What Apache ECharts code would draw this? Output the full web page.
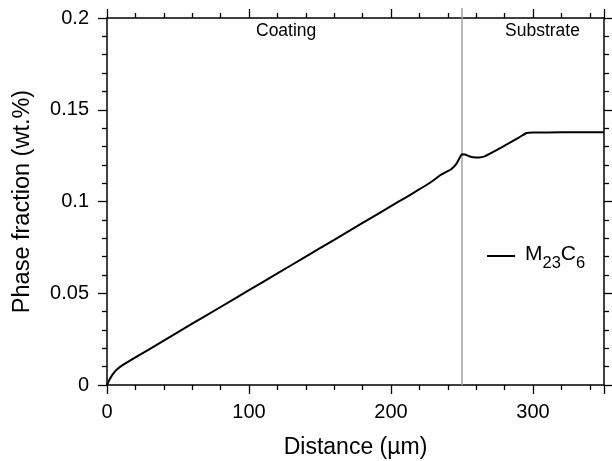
<!DOCTYPE html>
<html><head><meta charset="utf-8">
<script src="https://cdn.jsdelivr.net/npm/echarts@6/dist/echarts.min.js"></script>
<style>html,body{margin:0;padding:0;background:#fff}#c{width:612px;height:461px}</style>
</head><body><div id="c"></div>
<script>
const distance = [0, 2, 4, 6, 8, 10, 20, 40, 60, 80, 100, 120, 140, 160, 180, 200, 210, 220, 225, 230, 235, 240, 243, 246, 248, 250, 252, 255, 258, 262, 266, 270, 280, 290, 295, 297, 300, 320, 340, 350];
const m23c6 = [0, 0.0033, 0.0058, 0.0077, 0.0091, 0.0103, 0.015, 0.0242, 0.0334, 0.0425, 0.0517, 0.0608, 0.07, 0.0791, 0.0883, 0.0975, 0.102, 0.1067, 0.109, 0.1116, 0.1145, 0.1165, 0.118, 0.1205, 0.1233, 0.1258, 0.1256, 0.1247, 0.1241, 0.124, 0.1246, 0.1262, 0.1304, 0.1348, 0.1372, 0.1375, 0.1376, 0.1377, 0.1378, 0.1378];
const interfaceX = [250, 250];
const interfaceY = [0, 0.2055];
const regionLabels = ['Coating', 'Substrate'];
const xTitle = 'Distance (\u00b5m)';
const yTitle = 'Phase fraction (wt.%)';

const FONT = '"Liberation Sans", Arial, Helvetica, sans-serif';
const chart = echarts.init(document.getElementById('c'), null, {renderer: 'canvas'});
const axisCommon = {
  axisLine: {show: true, onZero: false, lineStyle: {color: '#000', width: 1.5}},
  splitLine: {show: false},
  axisTick: {show: true, inside: false, length: 9, lineStyle: {color: '#000', width: 1.3}},
  minorTick: {show: true, splitNumber: 5, length: 5, lineStyle: {color: '#000', width: 1.3}},
};
const yFmt = v => String(Math.round(v * 1000) / 1000);
chart.setOption({
  animation: false,
  backgroundColor: '#fff',
  textStyle: {fontFamily: FONT},
  grid: {left: 107, right: 8, top: 18, bottom: 76, containLabel: false, outerBoundsMode: 'none'},
  xAxis: [
    Object.assign({type: 'value', position: 'bottom', min: 0, max: 350, interval: 100,
      name: xTitle, nameLocation: 'middle', nameGap: 51,
      nameTextStyle: {fontSize: 23, color: '#000', fontFamily: FONT},
      axisLabel: {fontSize: 20, color: '#000', margin: 17, fontFamily: FONT, showMaxLabel: false}}, axisCommon),
    Object.assign({type: 'value', position: 'top', min: 0, max: 350, interval: 100,
      axisLabel: {show: false}}, axisCommon)
  ],
  yAxis: [
    Object.assign({type: 'value', position: 'left', min: 0, max: 0.2, interval: 0.05,
      name: yTitle, nameLocation: 'middle', nameGap: 72, nameRotate: 90,
      nameTextStyle: {fontSize: 23.5, color: '#000', fontFamily: FONT},
      axisLabel: {fontSize: 20, color: '#000', margin: 18, fontFamily: FONT, formatter: yFmt}}, axisCommon),
    Object.assign({type: 'value', position: 'right', min: 0, max: 0.2, interval: 0.05,
      axisLabel: {show: false}}, axisCommon)
  ],
  legend: {
    data: ['M23C6'],
    left: 482, top: 239,
    itemWidth: 28, itemHeight: 2, itemGap: 10,
    icon: 'rect',
    formatter: () => '{m|M}{s|23}{m|C}{s|6}',
    textStyle: {
      color: '#000', fontFamily: FONT, padding: [0, 0, 0, 5],
      rich: {
        m: {fontSize: 21, color: '#000', fontFamily: FONT, lineHeight: 24, verticalAlign: 'top'},
        s: {fontSize: 16.5, color: '#000', fontFamily: FONT, lineHeight: 17, verticalAlign: 'top', padding: [11, 0, 0, 0]}
      }
    }
  },
  graphic: [
    {type: 'text', left: 256, top: 22, style: {text: regionLabels[0], fontSize: 17.5, fill: '#000', font: '17.5px ' + FONT}},
    {type: 'text', left: 505, top: 22, style: {text: regionLabels[1], fontSize: 17.5, fill: '#000', font: '17.5px ' + FONT}}
  ],
  series: [
    {
      name: 'interface', type: 'line', silent: true, clip: false, symbol: 'none',
      data: interfaceX.map((x, i) => [x, interfaceY[i]]),
      lineStyle: {color: '#a3a3a3', width: 1.5}, z: 1
    },
    {
      name: 'M23C6', type: 'line', symbol: 'none', smooth: 0.2,
      data: distance.map((x, i) => [x, m23c6[i]]),
      lineStyle: {color: '#000', width: 2}, itemStyle: {color: '#000'}, z: 3
    }
  ]
});
</script></body></html>
